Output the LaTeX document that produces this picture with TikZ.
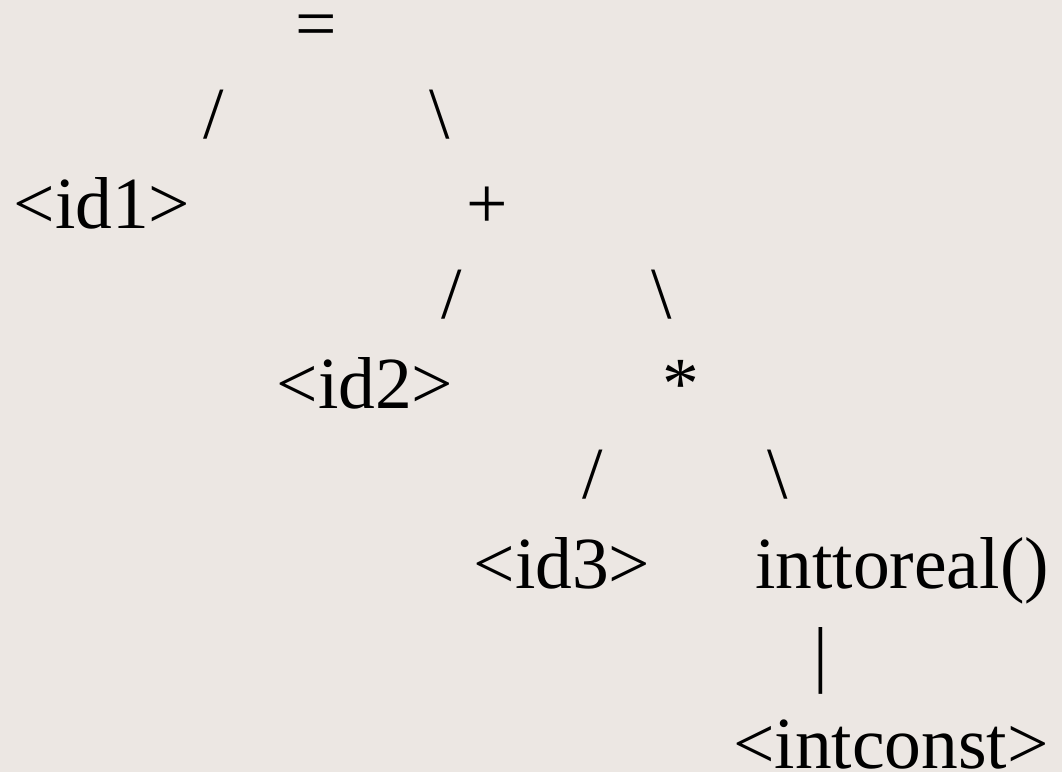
\documentclass[tikz,border=0pt]{standalone}
\usepackage{fontspec}
\setmainfont{Liberation Serif}
\definecolor{paper}{RGB}{236,231,227}
\begin{document}
\begin{tikzpicture}[x=1pt,y=-1pt,
  glyph/.style={anchor=base,inner sep=0pt,outer sep=0pt,text=black,
    font=\fontsize{73.5}{88}\selectfont}]
  % page
  \fill[paper] (0,0) rectangle (1062,772);
  \useasboundingbox (0,0) rectangle (1062,772);
  % row 1
  \node[glyph] (eq)   at (316,48)  {=};
  % row 2
  \node[glyph] (l1)   at (214,138) {/};
  \node[glyph] (r1)   at (440,138) {\textbackslash};
  % row 3
  \node[glyph] (id1)  at (102,228) {<id1>};
  \node[glyph] (plus) at (487,228) {+};
  % row 4
  \node[glyph] (l2)   at (452,318) {/};
  \node[glyph] (r2)   at (662,318) {\textbackslash};
  % row 5
  \node[glyph] (id2)  at (365,408) {<id2>};
  \node[glyph] (star) at (681,408) {*};
  % row 6
  \node[glyph] (l3)   at (593,498) {/};
  \node[glyph] (r3)   at (778,498) {\textbackslash};
  % row 7
  \node[glyph] (id3)  at (562,588) {<id3>};
  \node[glyph] (itr)  at (902,588) {inttoreal()};
  % row 8
  \node[glyph] (bar)  at (821,678) {|};
  % row 9
  \node[glyph] (ic)   at (891,768) {<intconst>};
\end{tikzpicture}
\end{document}
